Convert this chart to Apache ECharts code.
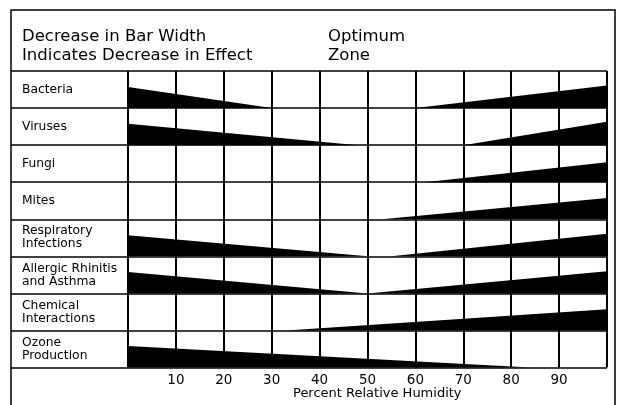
<!DOCTYPE html>
<html>
<head>
<meta charset="utf-8">
<script src="https://cdn.jsdelivr.net/npm/echarts@6/dist/echarts.min.js"></script>
<style>html,body{margin:0;padding:0;background:#fff}#c{width:621px;height:405px}</style>
</head>
<body>
<div id="c"></div>
<script>
// Row categories (top to bottom)
const categories = ['Bacteria', 'Viruses', 'Fungi', 'Mites', 'Respiratory\nInfections',
  'Allergic Rhinitis\nand Asthma', 'Chemical\nInteractions', 'Ozone\nProduction'];
// Humidity tick labels
const humidityTicks = [10, 20, 30, 40, 50, 60, 70, 80, 90];
// Bar-width profiles: [percent relative humidity, bar width as fraction of row height]
const bacteria    = [[0, 0.57], [30, 0], [60, 0], [100, 0.61]];
const viruses     = [[0, 0.58], [48, 0], [70, 0], [100, 0.63]];
const fungi       = [[62, 0], [100, 0.54]];
const mites       = [[53, 0], [100, 0.57]];
const respiratory = [[0, 0.57], [50, 0], [55, 0], [100, 0.61]];
const allergic    = [[0, 0.58], [50, 0], [100, 0.60]];
const chemical    = [[33, 0], [100, 0.57]];
const ozone       = [[0, 0.58], [84, 0]];
const profiles = [bacteria, viruses, fungi, mites, respiratory, allergic, chemical, ozone];

const FONT = 'DejaVu Sans';
const chart = echarts.init(document.getElementById('c'), null, {renderer: 'canvas'});
chart.setOption({
  backgroundColor: '#fff',
  animation: false,
  textStyle: {fontFamily: FONT, color: '#000'},
  title: [
    {text: 'Decrease in Bar Width\nIndicates Decrease in Effect', left: 17, top: 22,
     textStyle: {fontFamily: FONT, fontSize: 16.5, fontWeight: 'normal', color: '#000', lineHeight: 19}},
    {text: 'Optimum\nZone', left: 323, top: 22,
     textStyle: {fontFamily: FONT, fontSize: 16.5, fontWeight: 'normal', color: '#000', lineHeight: 19}},
    {text: 'Percent Relative Humidity', left: 288, top: 382,
     textStyle: {fontFamily: FONT, fontSize: 13, fontWeight: 'normal', color: '#000'}}
  ],
  graphic: [{
    type: 'rect', silent: true,
    shape: {x: 11, y: 10, width: 604, height: 400},
    style: {fill: 'none', stroke: '#000', lineWidth: 1.5}
  }],
  grid: [
    {left: 11, width: 117, top: 71, bottom: 37.5},
    {left: 128, right: 14, top: 71, bottom: 37.5}
  ],
  xAxis: [
    {gridIndex: 0, type: 'value', min: 0, max: 1, show: false},
    {gridIndex: 1, type: 'value', min: 0, max: 100, interval: 10,
     axisLine: {show: false}, axisTick: {show: false},
     splitLine: {show: true, lineStyle: {color: '#000', width: 2}},
     axisLabel: {color: '#000', fontFamily: FONT, fontSize: 13.5, margin: 6,
       formatter: v => humidityTicks.indexOf(v) >= 0 ? String(v) : ''}}
  ],
  yAxis: [
    {gridIndex: 0, type: 'category', data: categories, inverse: true,
     axisLine: {show: false}, axisTick: {show: false},
     splitLine: {show: true, interval: 0, lineStyle: {color: '#000', width: 1.5}},
     axisLabel: {inside: true, margin: 11, color: '#000', fontFamily: FONT, fontSize: 12.3,
       lineHeight: 13, interval: 0}},
    {gridIndex: 1, type: 'value', min: 0, max: 8, interval: 1, inverse: true,
     axisLine: {show: false}, axisTick: {show: false}, axisLabel: {show: false},
     splitLine: {show: true, lineStyle: {color: '#000', width: 1.5}}}
  ],
  series: [{
    type: 'custom',
    xAxisIndex: 1, yAxisIndex: 1,
    data: profiles.map((p, i) => [0, i]),
    encode: {x: 0, y: 1},
    renderItem: function (params, api) {
      const row = api.value(1);
      const prof = profiles[row];
      const bottom = row + 1;
      const pts = prof.map(([h, t]) => api.coord([h, bottom - t]));
      pts.push(api.coord([prof[prof.length - 1][0], bottom]));
      pts.push(api.coord([prof[0][0], bottom]));
      return {type: 'polygon', shape: {points: pts}, style: {fill: '#000'}};
    },
    z: 3
  }]
});
</script>
</body>
</html>
